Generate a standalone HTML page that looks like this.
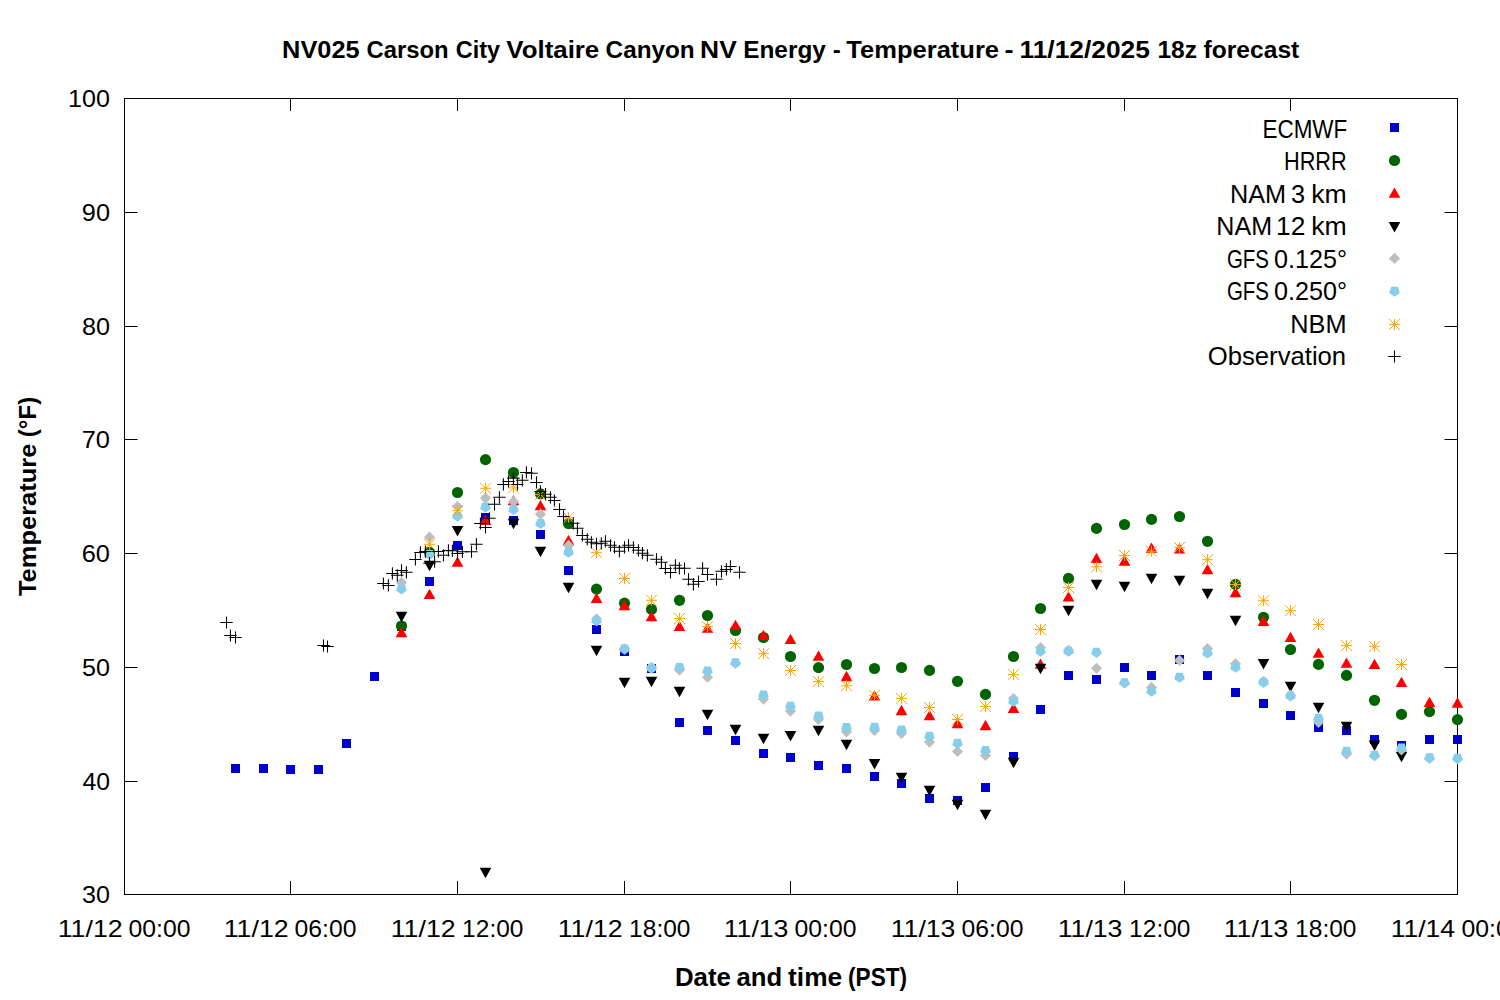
<!DOCTYPE html>
<html><head><meta charset="utf-8"><title>Temperature forecast</title>
<style>html,body{margin:0;padding:0;background:#fff;width:1500px;height:1000px;overflow:hidden}svg{display:block}text{font-family:"Liberation Sans",sans-serif}</style>
</head><body>
<svg width="1500" height="1000" viewBox="0 0 1500 1000">
<defs>
<path id="sq" d="M-4.5-4.5h9v9h-9z" fill="#0000cd"/>
<circle id="ci" r="5.6" fill="#006400"/>
<path id="tu" d="M0-5.15L5.85 5.15H-5.85z" fill="#ff0000"/>
<path id="td" d="M0 5.25L5.8-5.25H-5.8z" fill="#000000"/>
<path id="di" d="M0-5.6L5.6 0L0 5.6L-5.6 0z" fill="#bebebe"/>
<path id="pe" d="M-3.29-5.07H3.29L5.33 1.2L0 5.07L-5.33 1.2z" fill="#87ceeb"/>
<path id="as" d="M-5.5 0H5.5M0-5.5V5.5M-5.5-5.5L5.5 5.5M-5.5 5.5L5.5-5.5" stroke="#ffa500" stroke-width="1" fill="none"/>
<path id="pl" d="M-6.2 0H6.2M0-6.1V6.1" stroke="#000000" stroke-width="1.05" fill="none"/>
</defs>
<rect width="1500" height="1000" fill="#fff"/><path d="M290.5 894v-13M290.5 98v13M457.5 894v-13M457.5 98v13M624.5 894v-13M624.5 98v13M790.5 894v-13M790.5 98v13M957.5 894v-13M957.5 98v13M1124.5 894v-13M1124.5 98v13M1290.5 894v-13M1290.5 98v13M124 781.5h13.5M1458 781.5h-13.5M124 667.5h13.5M1458 667.5h-13.5M124 553.5h13.5M1458 553.5h-13.5M124 439.5h13.5M1458 439.5h-13.5M124 326.5h13.5M1458 326.5h-13.5M124 212.5h13.5M1458 212.5h-13.5" stroke="#000" stroke-width="1" fill="none"/><rect x="124.5" y="98.5" width="1333" height="796" stroke="#000" stroke-width="1" fill="none"/>
<g font-family="'Liberation Sans', sans-serif" fill="#000">
<text x="282.10" y="58.0" font-size="24.7" font-weight="bold" textLength="77.50" lengthAdjust="spacingAndGlyphs">NV025</text>
<text x="366.52" y="58.0" font-size="24.7" font-weight="bold" textLength="82.16" lengthAdjust="spacingAndGlyphs">Carson</text>
<text x="455.84" y="58.0" font-size="24.7" font-weight="bold" textLength="44.29" lengthAdjust="spacingAndGlyphs">City</text>
<text x="506.33" y="58.0" font-size="24.7" font-weight="bold" textLength="92.94" lengthAdjust="spacingAndGlyphs">Voltaire</text>
<text x="605.60" y="58.0" font-size="24.7" font-weight="bold" textLength="89.10" lengthAdjust="spacingAndGlyphs">Canyon</text>
<text x="700.14" y="58.0" font-size="24.7" font-weight="bold" textLength="36.64" lengthAdjust="spacingAndGlyphs">NV</text>
<text x="743.17" y="58.0" font-size="24.7" font-weight="bold" textLength="82.76" lengthAdjust="spacingAndGlyphs">Energy</text>
<text x="832.66" y="58.0" font-size="24.7" font-weight="bold" textLength="8.00" lengthAdjust="spacingAndGlyphs">-</text>
<text x="846.32" y="58.0" font-size="24.7" font-weight="bold" textLength="152.75" lengthAdjust="spacingAndGlyphs">Temperature</text>
<text x="1004.54" y="58.0" font-size="24.7" font-weight="bold" textLength="9.05" lengthAdjust="spacingAndGlyphs">-</text>
<text x="1019.56" y="58.0" font-size="24.7" font-weight="bold" textLength="130.26" lengthAdjust="spacingAndGlyphs">11/12/2025</text>
<text x="1157.45" y="58.0" font-size="24.7" font-weight="bold" textLength="39.64" lengthAdjust="spacingAndGlyphs">18z</text>
<text x="1203.58" y="58.0" font-size="24.7" font-weight="bold" textLength="95.72" lengthAdjust="spacingAndGlyphs">forecast</text>
<text x="82.04" y="903.2" font-size="24.5" textLength="27.94" lengthAdjust="spacingAndGlyphs">30</text>
<text x="82.43" y="790.2" font-size="24.5" textLength="27.54" lengthAdjust="spacingAndGlyphs">40</text>
<text x="81.99" y="676.2" font-size="24.5" textLength="27.99" lengthAdjust="spacingAndGlyphs">50</text>
<text x="81.71" y="562.2" font-size="24.5" textLength="28.28" lengthAdjust="spacingAndGlyphs">60</text>
<text x="81.70" y="448.2" font-size="24.5" textLength="28.30" lengthAdjust="spacingAndGlyphs">70</text>
<text x="81.90" y="335.2" font-size="24.5" textLength="28.08" lengthAdjust="spacingAndGlyphs">80</text>
<text x="81.81" y="221.2" font-size="24.5" textLength="28.18" lengthAdjust="spacingAndGlyphs">90</text>
<text x="68.09" y="107.2" font-size="24.5" textLength="41.89" lengthAdjust="spacingAndGlyphs">100</text>
<text x="57.73" y="936.6" font-size="24" textLength="64.88" lengthAdjust="spacingAndGlyphs">11/12</text>
<text x="128.53" y="936.6" font-size="24" textLength="61.93" lengthAdjust="spacingAndGlyphs">00:00</text>
<text x="223.73" y="936.6" font-size="24" textLength="64.88" lengthAdjust="spacingAndGlyphs">11/12</text>
<text x="294.53" y="936.6" font-size="24" textLength="61.93" lengthAdjust="spacingAndGlyphs">06:00</text>
<text x="390.73" y="936.6" font-size="24" textLength="64.88" lengthAdjust="spacingAndGlyphs">11/12</text>
<text x="462.13" y="936.6" font-size="24" textLength="61.32" lengthAdjust="spacingAndGlyphs">12:00</text>
<text x="557.73" y="936.6" font-size="24" textLength="64.88" lengthAdjust="spacingAndGlyphs">11/12</text>
<text x="629.13" y="936.6" font-size="24" textLength="61.32" lengthAdjust="spacingAndGlyphs">18:00</text>
<text x="723.73" y="936.6" font-size="24" textLength="64.71" lengthAdjust="spacingAndGlyphs">11/13</text>
<text x="794.53" y="936.6" font-size="24" textLength="61.93" lengthAdjust="spacingAndGlyphs">00:00</text>
<text x="890.73" y="936.6" font-size="24" textLength="64.71" lengthAdjust="spacingAndGlyphs">11/13</text>
<text x="961.53" y="936.6" font-size="24" textLength="61.93" lengthAdjust="spacingAndGlyphs">06:00</text>
<text x="1057.73" y="936.6" font-size="24" textLength="64.71" lengthAdjust="spacingAndGlyphs">11/13</text>
<text x="1129.13" y="936.6" font-size="24" textLength="61.32" lengthAdjust="spacingAndGlyphs">12:00</text>
<text x="1223.73" y="936.6" font-size="24" textLength="64.71" lengthAdjust="spacingAndGlyphs">11/13</text>
<text x="1295.13" y="936.6" font-size="24" textLength="61.32" lengthAdjust="spacingAndGlyphs">18:00</text>
<text x="1390.74" y="936.6" font-size="24" textLength="64.31" lengthAdjust="spacingAndGlyphs">11/14</text>
<text x="1461.53" y="936.6" font-size="24" textLength="61.93" lengthAdjust="spacingAndGlyphs">00:00</text>
<text x="674.97" y="985.5" font-size="25" font-weight="bold" textLength="55.91" lengthAdjust="spacingAndGlyphs">Date</text>
<text x="736.45" y="985.5" font-size="25" font-weight="bold" textLength="45.64" lengthAdjust="spacingAndGlyphs">and</text>
<text x="788.08" y="985.5" font-size="25" font-weight="bold" textLength="54.02" lengthAdjust="spacingAndGlyphs">time</text>
<text x="848.07" y="985.5" font-size="25" font-weight="bold" textLength="59.05" lengthAdjust="spacingAndGlyphs">(PST)</text>
<g transform="translate(36.3 0) rotate(-90)"><text x="-596.08" y="0" font-size="24.7" font-weight="bold" textLength="152.54" lengthAdjust="spacingAndGlyphs">Temperature</text><text x="-437.20" y="0" font-size="24.7" font-weight="bold" textLength="40.40" lengthAdjust="spacingAndGlyphs">(°F)</text></g>
<text x="1262.46" y="137.90" font-size="25" textLength="84.84" lengthAdjust="spacingAndGlyphs">ECMWF</text>
<use href="#sq" x="1394.5" y="127.5"/>
<text x="1284.02" y="170.40" font-size="25" textLength="62.69" lengthAdjust="spacingAndGlyphs">HRRR</text>
<use href="#ci" x="1394.5" y="160.5"/>
<text x="1229.93" y="202.90" font-size="25" textLength="56.15" lengthAdjust="spacingAndGlyphs">NAM</text>
<text x="1291.04" y="202.90" font-size="25" textLength="14.08" lengthAdjust="spacingAndGlyphs">3</text>
<text x="1311.20" y="202.90" font-size="25" textLength="35.56" lengthAdjust="spacingAndGlyphs">km</text>
<use href="#tu" x="1394.5" y="192.65"/>
<text x="1216.34" y="235.40" font-size="25" textLength="55.71" lengthAdjust="spacingAndGlyphs">NAM</text>
<text x="1275.99" y="235.40" font-size="25" textLength="29.34" lengthAdjust="spacingAndGlyphs">12</text>
<text x="1311.20" y="235.40" font-size="25" textLength="35.56" lengthAdjust="spacingAndGlyphs">km</text>
<use href="#td" x="1394.5" y="227.15"/>
<text x="1226.97" y="267.90" font-size="25" textLength="41.96" lengthAdjust="spacingAndGlyphs">GFS</text>
<text x="1274.02" y="267.90" font-size="25" textLength="72.99" lengthAdjust="spacingAndGlyphs">0.125°</text>
<use href="#di" x="1394.5" y="258.4"/>
<text x="1226.97" y="300.40" font-size="25" textLength="41.96" lengthAdjust="spacingAndGlyphs">GFS</text>
<text x="1274.02" y="300.40" font-size="25" textLength="72.99" lengthAdjust="spacingAndGlyphs">0.250°</text>
<use href="#pe" x="1394.5" y="291.7"/>
<text x="1290.32" y="332.90" font-size="25" textLength="56.25" lengthAdjust="spacingAndGlyphs">NBM</text>
<use href="#as" x="1394.5" y="324.4"/>
<text x="1207.78" y="365.40" font-size="25" textLength="138.38" lengthAdjust="spacingAndGlyphs">Observation</text>
<use href="#pl" x="1394.5" y="356.5"/>
</g>
<g>
<use href="#sq" x="235.5" y="768.5"/><use href="#sq" x="263.5" y="768.5"/><use href="#sq" x="290.5" y="769.5"/><use href="#sq" x="318.5" y="769.5"/><use href="#sq" x="346.5" y="743.5"/><use href="#sq" x="374.5" y="676.5"/><use href="#sq" x="401.5" y="626.5"/><use href="#sq" x="429.5" y="581.5"/><use href="#sq" x="457.5" y="545.5"/><use href="#sq" x="485.5" y="517.5"/><use href="#sq" x="513.5" y="520.5"/><use href="#sq" x="540.5" y="534.5"/><use href="#sq" x="568.5" y="570.5"/><use href="#sq" x="596.5" y="629.5"/><use href="#sq" x="624.5" y="651.5"/><use href="#sq" x="651.5" y="668.5"/><use href="#sq" x="679.5" y="722.5"/><use href="#sq" x="707.5" y="730.5"/><use href="#sq" x="735.5" y="740.5"/><use href="#sq" x="763.5" y="753.5"/><use href="#sq" x="790.5" y="757.5"/><use href="#sq" x="818.5" y="765.5"/><use href="#sq" x="846.5" y="768.5"/><use href="#sq" x="874.5" y="776.5"/><use href="#sq" x="901.5" y="783.5"/><use href="#sq" x="929.5" y="798.5"/><use href="#sq" x="957.5" y="800.5"/><use href="#sq" x="985.5" y="787.5"/><use href="#sq" x="1013.5" y="756.5"/><use href="#sq" x="1040.5" y="709.5"/><use href="#sq" x="1068.5" y="675.5"/><use href="#sq" x="1096.5" y="679.5"/><use href="#sq" x="1124.5" y="667.5"/><use href="#sq" x="1151.5" y="675.5"/><use href="#sq" x="1179.5" y="659.5"/><use href="#sq" x="1207.5" y="675.5"/><use href="#sq" x="1235.5" y="692.5"/><use href="#sq" x="1263.5" y="703.5"/><use href="#sq" x="1290.5" y="715.5"/><use href="#sq" x="1318.5" y="727.5"/><use href="#sq" x="1346.5" y="730.5"/><use href="#sq" x="1374.5" y="739.5"/><use href="#sq" x="1401.5" y="745.5"/><use href="#sq" x="1429.5" y="739.5"/><use href="#sq" x="1457.5" y="739.5"/>
<use href="#ci" x="401.5" y="626"/><use href="#ci" x="429.5" y="552.4"/><use href="#ci" x="457.5" y="492.5"/><use href="#ci" x="485.5" y="459.6"/><use href="#ci" x="513.5" y="472.5"/><use href="#ci" x="540.5" y="493.9"/><use href="#ci" x="568.5" y="523.6"/><use href="#ci" x="596.5" y="589.1"/><use href="#ci" x="624.5" y="603.2"/><use href="#ci" x="651.5" y="609.4"/><use href="#ci" x="679.5" y="600.3"/><use href="#ci" x="707.5" y="615.5"/><use href="#ci" x="735.5" y="630.5"/><use href="#ci" x="763.5" y="637.5"/><use href="#ci" x="790.5" y="656.5"/><use href="#ci" x="818.5" y="667.6"/><use href="#ci" x="846.5" y="664.5"/><use href="#ci" x="874.5" y="668.5"/><use href="#ci" x="901.5" y="667.5"/><use href="#ci" x="929.5" y="670.4"/><use href="#ci" x="957.5" y="681.3"/><use href="#ci" x="985.5" y="694.4"/><use href="#ci" x="1013.5" y="656.5"/><use href="#ci" x="1040.5" y="608.5"/><use href="#ci" x="1068.5" y="578.4"/><use href="#ci" x="1096.5" y="528.4"/><use href="#ci" x="1124.5" y="524.5"/><use href="#ci" x="1151.5" y="519.4"/><use href="#ci" x="1179.5" y="516.5"/><use href="#ci" x="1207.5" y="541.3"/><use href="#ci" x="1235.5" y="584.4"/><use href="#ci" x="1263.5" y="617.3"/><use href="#ci" x="1290.5" y="649.5"/><use href="#ci" x="1318.5" y="664.4"/><use href="#ci" x="1346.5" y="675.4"/><use href="#ci" x="1374.5" y="700.3"/><use href="#ci" x="1401.5" y="714.4"/><use href="#ci" x="1429.5" y="711.6"/><use href="#ci" x="1457.5" y="719.6"/>
<use href="#tu" x="401.5" y="632"/><use href="#tu" x="429.5" y="593.9"/><use href="#tu" x="457.5" y="561.6"/><use href="#tu" x="485.5" y="519.8"/><use href="#tu" x="513.5" y="500.2"/><use href="#tu" x="540.5" y="505.1"/><use href="#tu" x="568.5" y="540"/><use href="#tu" x="596.5" y="597.9"/><use href="#tu" x="624.5" y="605.1"/><use href="#tu" x="651.5" y="616.1"/><use href="#tu" x="679.5" y="625.9"/><use href="#tu" x="707.5" y="627.6"/><use href="#tu" x="735.5" y="624.8"/><use href="#tu" x="763.5" y="634.9"/><use href="#tu" x="790.5" y="638.8"/><use href="#tu" x="818.5" y="655.7"/><use href="#tu" x="846.5" y="676"/><use href="#tu" x="874.5" y="695.3"/><use href="#tu" x="901.5" y="710"/><use href="#tu" x="929.5" y="715.2"/><use href="#tu" x="957.5" y="723"/><use href="#tu" x="985.5" y="725"/><use href="#tu" x="1013.5" y="707.8"/><use href="#tu" x="1040.5" y="663.6"/><use href="#tu" x="1068.5" y="596.3"/><use href="#tu" x="1096.5" y="557.8"/><use href="#tu" x="1124.5" y="560.7"/><use href="#tu" x="1151.5" y="547.6"/><use href="#tu" x="1179.5" y="548.3"/><use href="#tu" x="1207.5" y="569.1"/><use href="#tu" x="1235.5" y="592"/><use href="#tu" x="1263.5" y="620.8"/><use href="#tu" x="1290.5" y="636.9"/><use href="#tu" x="1318.5" y="652.7"/><use href="#tu" x="1346.5" y="662.7"/><use href="#tu" x="1374.5" y="663.9"/><use href="#tu" x="1401.5" y="681.8"/><use href="#tu" x="1429.5" y="701.8"/><use href="#tu" x="1457.5" y="702.5"/>
<use href="#td" x="401.5" y="617"/><use href="#td" x="429.5" y="566.1"/><use href="#td" x="457.5" y="531.2"/><use href="#td" x="485.5" y="873"/><use href="#td" x="513.5" y="524"/><use href="#td" x="540.5" y="552"/><use href="#td" x="568.5" y="588"/><use href="#td" x="596.5" y="651"/><use href="#td" x="624.5" y="683"/><use href="#td" x="651.5" y="682"/><use href="#td" x="679.5" y="692.1"/><use href="#td" x="707.5" y="715.1"/><use href="#td" x="735.5" y="730"/><use href="#td" x="763.5" y="739"/><use href="#td" x="790.5" y="736.2"/><use href="#td" x="818.5" y="731.1"/><use href="#td" x="846.5" y="745"/><use href="#td" x="874.5" y="764.2"/><use href="#td" x="901.5" y="778"/><use href="#td" x="929.5" y="791"/><use href="#td" x="957.5" y="805.1"/><use href="#td" x="985.5" y="815"/><use href="#td" x="1013.5" y="763"/><use href="#td" x="1040.5" y="669"/><use href="#td" x="1068.5" y="611"/><use href="#td" x="1096.5" y="585.1"/><use href="#td" x="1124.5" y="587"/><use href="#td" x="1151.5" y="579"/><use href="#td" x="1179.5" y="581"/><use href="#td" x="1207.5" y="594.1"/><use href="#td" x="1235.5" y="621.1"/><use href="#td" x="1263.5" y="664.2"/><use href="#td" x="1290.5" y="687"/><use href="#td" x="1318.5" y="708.1"/><use href="#td" x="1346.5" y="727.1"/><use href="#td" x="1374.5" y="745.7"/><use href="#td" x="1401.5" y="757"/>
<use href="#di" x="401.5" y="582.6"/><use href="#di" x="429.5" y="537.2"/><use href="#di" x="457.5" y="506.5"/><use href="#di" x="485.5" y="498.1"/><use href="#di" x="513.5" y="501.6"/><use href="#di" x="540.5" y="514.2"/><use href="#di" x="568.5" y="545.4"/><use href="#di" x="596.5" y="618.9"/><use href="#di" x="624.5" y="648.8"/><use href="#di" x="651.5" y="667.3"/><use href="#di" x="679.5" y="670.1"/><use href="#di" x="707.5" y="677.2"/><use href="#di" x="735.5" y="663.5"/><use href="#di" x="763.5" y="699.1"/><use href="#di" x="790.5" y="711.1"/><use href="#di" x="818.5" y="719.4"/><use href="#di" x="846.5" y="731.8"/><use href="#di" x="874.5" y="730.4"/><use href="#di" x="901.5" y="733.4"/><use href="#di" x="929.5" y="742.1"/><use href="#di" x="957.5" y="751.5"/><use href="#di" x="985.5" y="755.4"/><use href="#di" x="1013.5" y="698.5"/><use href="#di" x="1040.5" y="647.5"/><use href="#di" x="1068.5" y="650.3"/><use href="#di" x="1096.5" y="668.3"/><use href="#di" x="1124.5" y="683"/><use href="#di" x="1151.5" y="687.4"/><use href="#di" x="1179.5" y="660.4"/><use href="#di" x="1207.5" y="648.6"/><use href="#di" x="1235.5" y="663.8"/><use href="#di" x="1263.5" y="681.3"/><use href="#di" x="1290.5" y="695.3"/><use href="#di" x="1318.5" y="722.3"/><use href="#di" x="1346.5" y="754.1"/><use href="#di" x="1374.5" y="756"/><use href="#di" x="1401.5" y="750"/><use href="#di" x="1429.5" y="758.4"/><use href="#di" x="1457.5" y="759"/>
<use href="#pe" x="401.5" y="589.4"/><use href="#pe" x="429.5" y="555"/><use href="#pe" x="457.5" y="516.8"/><use href="#pe" x="485.5" y="507.5"/><use href="#pe" x="513.5" y="510"/><use href="#pe" x="540.5" y="524"/><use href="#pe" x="568.5" y="552.7"/><use href="#pe" x="596.5" y="621.3"/><use href="#pe" x="624.5" y="649.6"/><use href="#pe" x="651.5" y="668.7"/><use href="#pe" x="679.5" y="668"/><use href="#pe" x="707.5" y="671.6"/><use href="#pe" x="735.5" y="663.3"/><use href="#pe" x="763.5" y="695.5"/><use href="#pe" x="790.5" y="706.8"/><use href="#pe" x="818.5" y="716.6"/><use href="#pe" x="846.5" y="728"/><use href="#pe" x="874.5" y="727.8"/><use href="#pe" x="901.5" y="730.6"/><use href="#pe" x="929.5" y="736.8"/><use href="#pe" x="957.5" y="743.7"/><use href="#pe" x="985.5" y="751"/><use href="#pe" x="1013.5" y="701.7"/><use href="#pe" x="1040.5" y="651.7"/><use href="#pe" x="1068.5" y="651.7"/><use href="#pe" x="1096.5" y="652.9"/><use href="#pe" x="1124.5" y="683.2"/><use href="#pe" x="1151.5" y="691.7"/><use href="#pe" x="1179.5" y="677.8"/><use href="#pe" x="1207.5" y="653.5"/><use href="#pe" x="1235.5" y="667.7"/><use href="#pe" x="1263.5" y="682.9"/><use href="#pe" x="1290.5" y="696.5"/><use href="#pe" x="1318.5" y="718.8"/><use href="#pe" x="1346.5" y="751.8"/><use href="#pe" x="1374.5" y="755.8"/><use href="#pe" x="1401.5" y="748.5"/><use href="#pe" x="1429.5" y="758.2"/><use href="#pe" x="1457.5" y="758.8"/>
<use href="#as" x="429.5" y="544.3"/><use href="#as" x="457.5" y="510.7"/><use href="#as" x="485.5" y="488.3"/><use href="#as" x="513.5" y="487.9"/><use href="#as" x="540.5" y="494.6"/><use href="#as" x="568.5" y="517.7"/><use href="#as" x="596.5" y="552.7"/><use href="#as" x="624.5" y="578.5"/><use href="#as" x="651.5" y="600.3"/><use href="#as" x="679.5" y="618.5"/><use href="#as" x="707.5" y="626.6"/><use href="#as" x="735.5" y="643.5"/><use href="#as" x="763.5" y="653.6"/><use href="#as" x="790.5" y="670.5"/><use href="#as" x="818.5" y="681.6"/><use href="#as" x="846.5" y="685.7"/><use href="#as" x="874.5" y="695.3"/><use href="#as" x="901.5" y="698.4"/><use href="#as" x="929.5" y="707.5"/><use href="#as" x="957.5" y="719.5"/><use href="#as" x="985.5" y="706.6"/><use href="#as" x="1013.5" y="674.6"/><use href="#as" x="1040.5" y="629.5"/><use href="#as" x="1068.5" y="587.5"/><use href="#as" x="1096.5" y="566.8"/><use href="#as" x="1124.5" y="555.5"/><use href="#as" x="1151.5" y="551.3"/><use href="#as" x="1179.5" y="547.6"/><use href="#as" x="1207.5" y="559.7"/><use href="#as" x="1235.5" y="584.5"/><use href="#as" x="1263.5" y="600.7"/><use href="#as" x="1290.5" y="610.7"/><use href="#as" x="1318.5" y="624.5"/><use href="#as" x="1346.5" y="645.6"/><use href="#as" x="1374.5" y="646.4"/><use href="#as" x="1401.5" y="664.5"/>
<use href="#pl" x="226.5" y="622.5"/><use href="#pl" x="230.4" y="635.5"/><use href="#pl" x="235.5" y="637.5"/><use href="#pl" x="323.5" y="645.5"/><use href="#pl" x="327.5" y="646.5"/><use href="#pl" x="383.4" y="583.5"/><use href="#pl" x="388.4" y="585.4"/><use href="#pl" x="392.4" y="573.4"/><use href="#pl" x="397.3" y="575.3"/><use href="#pl" x="401.5" y="570.4"/><use href="#pl" x="406.4" y="572.3"/><use href="#pl" x="415.4" y="559.4"/><use href="#pl" x="420.4" y="552.4"/><use href="#pl" x="425.4" y="551.6"/><use href="#pl" x="429.5" y="563.2"/><use href="#pl" x="434.6" y="561.7"/><use href="#pl" x="438.4" y="551.4"/><use href="#pl" x="443.5" y="555.3"/><use href="#pl" x="448.4" y="550.4"/><use href="#pl" x="452.4" y="550.8"/><use href="#pl" x="457.5" y="553.4"/><use href="#pl" x="462.4" y="551.8"/><use href="#pl" x="471.5" y="551.7"/><use href="#pl" x="476.4" y="544.2"/><use href="#pl" x="480.4" y="523.5"/><use href="#pl" x="485.5" y="527.4"/><use href="#pl" x="489.5" y="518.3"/><use href="#pl" x="494.5" y="504.3"/><use href="#pl" x="499.4" y="497.3"/><use href="#pl" x="503.4" y="484.4"/><use href="#pl" x="508.5" y="481.5"/><use href="#pl" x="513.4" y="478.1"/><use href="#pl" x="517.4" y="484.4"/><use href="#pl" x="522.3" y="480.3"/><use href="#pl" x="526.4" y="472.4"/><use href="#pl" x="531.5" y="473.3"/><use href="#pl" x="536.5" y="482.4"/><use href="#pl" x="540.4" y="491.4"/><use href="#pl" x="545.5" y="494.2"/><use href="#pl" x="550.4" y="497.3"/><use href="#pl" x="554.4" y="500.5"/><use href="#pl" x="559.5" y="509.4"/><use href="#pl" x="563.5" y="516.4"/><use href="#pl" x="573.3" y="523.3"/><use href="#pl" x="577.4" y="528.3"/><use href="#pl" x="582.4" y="535.4"/><use href="#pl" x="587.3" y="539.3"/><use href="#pl" x="591.4" y="542.3"/><use href="#pl" x="596.5" y="543.8"/><use href="#pl" x="601.3" y="543.3"/><use href="#pl" x="605.4" y="541.3"/><use href="#pl" x="610.5" y="545.3"/><use href="#pl" x="614.5" y="547.3"/><use href="#pl" x="619.4" y="551.2"/><use href="#pl" x="624.5" y="547.3"/><use href="#pl" x="628.5" y="545.3"/><use href="#pl" x="633.4" y="547.4"/><use href="#pl" x="638.4" y="550.3"/><use href="#pl" x="642.5" y="553.2"/><use href="#pl" x="647.4" y="555.3"/><use href="#pl" x="656.5" y="559.2"/><use href="#pl" x="661.4" y="562.2"/><use href="#pl" x="665.4" y="568.5"/><use href="#pl" x="670.5" y="572.5"/><use href="#pl" x="675.4" y="565.3"/><use href="#pl" x="679.4" y="568.3"/><use href="#pl" x="684.5" y="568.3"/><use href="#pl" x="688.5" y="579.3"/><use href="#pl" x="693.4" y="584.3"/><use href="#pl" x="698.5" y="581.5"/><use href="#pl" x="702.6" y="568.3"/><use href="#pl" x="707.5" y="574.6"/><use href="#pl" x="716.5" y="579.3"/><use href="#pl" x="721.5" y="571.3"/><use href="#pl" x="726.4" y="569.4"/><use href="#pl" x="730.4" y="566.4"/><use href="#pl" x="739.5" y="572.3"/>
</g>
</svg>
</body></html>
